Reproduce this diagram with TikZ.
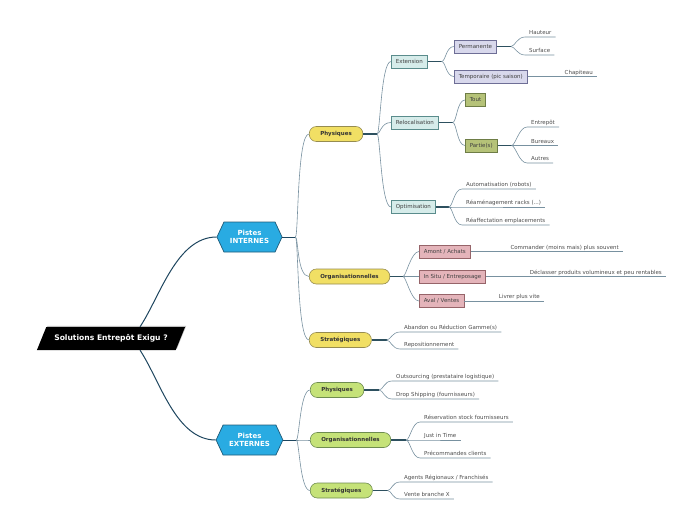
\documentclass[tikz,border=0pt]{standalone}
\usepackage{fontspec}
\setmainfont{DejaVu Sans}
\usetikzlibrary{positioning,shapes.geometric,shapes.symbols,shadows}

\definecolor{trunkc}{HTML}{1E465F}
\definecolor{stubc}{HTML}{2D505F}
\definecolor{twigc}{HTML}{7891A0}
\definecolor{pistec}{HTML}{29ABE2}
\definecolor{pisted}{HTML}{1F5A78}
\definecolor{yelc}{HTML}{F1DF64}
\definecolor{yeld}{HTML}{968C50}
\definecolor{grnc}{HTML}{C5E278}
\definecolor{grnd}{HTML}{6E8C50}
\definecolor{bluc}{HTML}{D6ECEA}
\definecolor{blud}{HTML}{5A8C8C}
\definecolor{lavc}{HTML}{D8D8EC}
\definecolor{lavd}{HTML}{6E6E96}
\definecolor{olic}{HTML}{B5C278}
\definecolor{olid}{HTML}{6E7D46}
\definecolor{pinc}{HTML}{E4B4BA}
\definecolor{pind}{HTML}{966469}

\newcommand{\leaffont}{\fontsize{5.5}{6.5}\selectfont}
\newcommand{\pillfont}{\fontsize{5.5}{6.5}\selectfont\bfseries}
\newcommand{\bigfont}{\fontsize{7}{8}\selectfont\bfseries}
\newcommand{\rootfont}{\fontsize{7.6}{8.5}\selectfont\bfseries}

\tikzset{
  trunk/.style={draw=trunkc, line width=1pt},
  stub/.style={draw=stubc, line width=1.3pt},
  twig/.style={draw=twigc, line width=0.6pt},
  root/.style={trapezium, trapezium left angle=57, trapezium right angle=123,
    trapezium stretches=true,
    fill=black, text=white, font=\rootfont, inner xsep=8pt, minimum height=23pt,
    drop shadow={shadow xshift=1.2pt, shadow yshift=1.2pt, fill=black!25, opacity=1}},
  piste/.style={signal, signal to=east and west, signal pointer angle=130,
    fill=pistec, draw=pisted, line width=0.7pt, text=white, font=\bigfont,
    align=center, inner xsep=6pt, minimum height=30pt},
  pill/.style={anchor=west, rounded corners=7pt, minimum height=15pt,
    inner xsep=11pt, font=\pillfont, text=black!80, line width=0.6pt},
  yel/.style={pill, fill=yelc, draw=yeld},
  grn/.style={pill, fill=grnc, draw=grnd},
  box/.style={anchor=west, minimum height=13pt, inner xsep=4.5pt,
    font=\leaffont, text=black!75, line width=0.6pt},
  blu/.style={box, fill=bluc, draw=blud},
  lav/.style={box, fill=lavc, draw=lavd},
  oli/.style={box, fill=olic, draw=olid},
  pin/.style={box, fill=pinc, draw=pind},
  leaf/.style={font=\leaffont, text=black!70, inner xsep=4pt, inner ysep=1.2pt,
    text depth=0.8pt, anchor=south west},
  lone/.style={leaf, anchor=south east}
}

\begin{document}
\begin{tikzpicture}[x=1pt,y=-1pt]
\useasboundingbox (0,0) rectangle (697,520);

% centre and the two main branches
\node[root] (sol) at (111,338.5) {Solutions Entrepôt Exigu ?};
\node[piste] (pint) at (249.5,237) {Pistes\\INTERNES};
\node[piste] (pext) at (249.5,440) {Pistes\\EXTERNES};
\draw[trunk] ([xshift=29pt]sol.north) .. controls +(20,-30) and +(-40,0) .. (pint.west);
\draw[trunk] ([xshift=29pt]sol.south) .. controls +(20,30) and +(-40,0) .. (pext.west);

% internal
\node[yel] (iphy) at (309,134) {Physiques};
\node[yel] (iorg) at (309,276.5) {Organisationnelles};
\node[yel] (istr) at (309,340) {Stratégiques};
\coordinate (jint) at ([xshift=13pt]pint.east);
\draw[trunk,line width=0.8pt] (pint.east) -- (jint);
\foreach \t in {iphy,iorg,istr}
  \draw[twig] (jint) .. controls +(3,0) and +(-12,0) .. (\t.west);

% physiques
\node[blu] (ext) at (391,61.5) {Extension};
\node[blu] (reloc) at (391,122.5) {Relocalisation};
\node[blu] (optim) at (391,207) {Optimisation};
\coordinate (jphy) at ([xshift=14pt]iphy.east);
\draw[stub] (iphy.east) -- (jphy);
\foreach \t in {ext,reloc,optim}
  \draw[twig] (jphy) .. controls +(3,0) and +(-10,0) .. (\t.west);

\node[lav] (perm) at (454,46.5) {Permanente};
\node[lav] (temp) at (454,76.5) {Temporaire (pic saison)};
\coordinate (jext) at ([xshift=14pt]ext.east);
\draw[stub] (ext.east) -- (jext);
\foreach \t in {perm,temp}
  \draw[twig] (jext) .. controls +(4,0) and +(-8,0) .. (\t.west);

\node[leaf] (haut) at (525,37) {Hauteur};
\node[leaf] (surf) at (525,55) {Surface};
\coordinate (jperm) at ([xshift=14pt]perm.east);
\draw[stub] (perm.east) -- (jperm);
\foreach \t in {haut,surf}
  \draw[twig] (jperm) .. controls +(4,0) and +(-8,0) .. (\t.south west) -- (\t.south east);
\node[lone] (chap) at (597,76.5) {Chapiteau};
\draw[twig] (temp.east) -- (chap.south east);

\node[oli] (tout) at (465,100) {Tout};
\node[oli] (parts) at (465,145.5) {Partie(s)};
\coordinate (jrel) at ([xshift=14pt]reloc.east);
\draw[stub] (reloc.east) -- (jrel);
\foreach \t in {tout,parts}
  \draw[twig] (jrel) .. controls +(4,0) and +(-8,0) .. (\t.west);

\node[leaf] (entr) at (527,127) {Entrepôt};
\node[leaf] (bur) at (527,145.5) {Bureaux};
\node[leaf] (autr) at (527,163) {Autres};
\coordinate (jpart) at ([xshift=14pt]parts.east);
\draw[stub] (parts.east) -- (jpart);
\foreach \t in {entr,bur,autr}
  \draw[twig] (jpart) .. controls +(4,0) and +(-8,0) .. (\t.south west) -- (\t.south east);

\node[leaf] (auto) at (462,189) {Automatisation (robots)};
\node[leaf] (ream) at (462,207) {Réaménagement racks (...)};
\node[leaf] (reaf) at (462,225) {Réaffectation emplacements};
\coordinate (jopt) at ([xshift=13pt]optim.east);
\draw[stub] (optim.east) -- (jopt);
\foreach \t in {auto,ream,reaf}
  \draw[twig] (jopt) .. controls +(4,0) and +(-8,0) .. (\t.south west) -- (\t.south east);

% organisationnelles
\node[pin] (amont) at (419,251.5) {Amont / Achats};
\node[pin] (situ) at (419,276.5) {In Situ / Entreposage};
\node[pin] (aval) at (419,301) {Aval / Ventes};
\coordinate (jorg) at ([xshift=13pt]iorg.east);
\draw[stub] (iorg.east) -- (jorg);
\foreach \t in {amont,situ,aval}
  \draw[twig] (jorg) .. controls +(3,0) and +(-8,0) .. (\t.west);
\node[lone] (comm) at (623,251.5) {Commander (moins mais) plus souvent};
\node[lone] (decl) at (666,276.5) {Déclasser produits volumineux et peu rentables};
\node[lone] (livr) at (544,301) {Livrer plus vite};
\draw[twig] (amont.east) -- (comm.south east);
\draw[twig] (situ.east) -- (decl.south east);
\draw[twig] (aval.east) -- (livr.south east);

% strategiques
\node[leaf] (aband) at (400,332) {Abandon ou Réduction Gamme(s)};
\node[leaf] (repos) at (400,349) {Repositionnement};
\coordinate (jstr) at ([xshift=15pt]istr.east);
\draw[stub] (istr.east) -- (jstr);
\foreach \t in {aband,repos}
  \draw[twig] (jstr) .. controls +(4,0) and +(-8,0) .. (\t.south west) -- (\t.south east);

% external
\node[grn] (ephy) at (310,390) {Physiques};
\node[grn] (eorg) at (310,440) {Organisationnelles};
\node[grn] (estr) at (310,490.5) {Stratégiques};
\coordinate (jexn) at ([xshift=13pt]pext.east);
\draw[trunk,line width=0.8pt] (pext.east) -- (jexn);
\foreach \t in {ephy,eorg,estr}
  \draw[twig] (jexn) .. controls +(3,0) and +(-10,0) .. (\t.west);

\node[leaf] (outs) at (392,381) {Outsourcing (prestataire logistique)};
\node[leaf] (drop) at (392,399) {Drop Shipping (fournisseurs)};
\coordinate (jeph) at ([xshift=15pt]ephy.east);
\draw[stub] (ephy.east) -- (jeph);
\foreach \t in {outs,drop}
  \draw[twig] (jeph) .. controls +(4,0) and +(-8,0) .. (\t.south west) -- (\t.south east);

\node[leaf] (resv) at (420,422) {Réservation stock fournisseurs};
\node[leaf] (jit) at (420,440) {Just in Time};
\node[leaf] (prec) at (420,458) {Précommandes clients};
\coordinate (jeor) at ([xshift=15pt]eorg.east);
\draw[stub] (eorg.east) -- (jeor);
\foreach \t in {resv,jit,prec}
  \draw[twig] (jeor) .. controls +(4,0) and +(-8,0) .. (\t.south west) -- (\t.south east);

\node[leaf] (agen) at (400,482) {Agents Régionaux / Franchisés};
\node[leaf] (vent) at (400,499) {Vente branche X};
\coordinate (jest) at ([xshift=15pt]estr.east);
\draw[stub] (estr.east) -- (jest);
\foreach \t in {agen,vent}
  \draw[twig] (jest) .. controls +(4,0) and +(-8,0) .. (\t.south west) -- (\t.south east);
\end{tikzpicture}
\end{document}
